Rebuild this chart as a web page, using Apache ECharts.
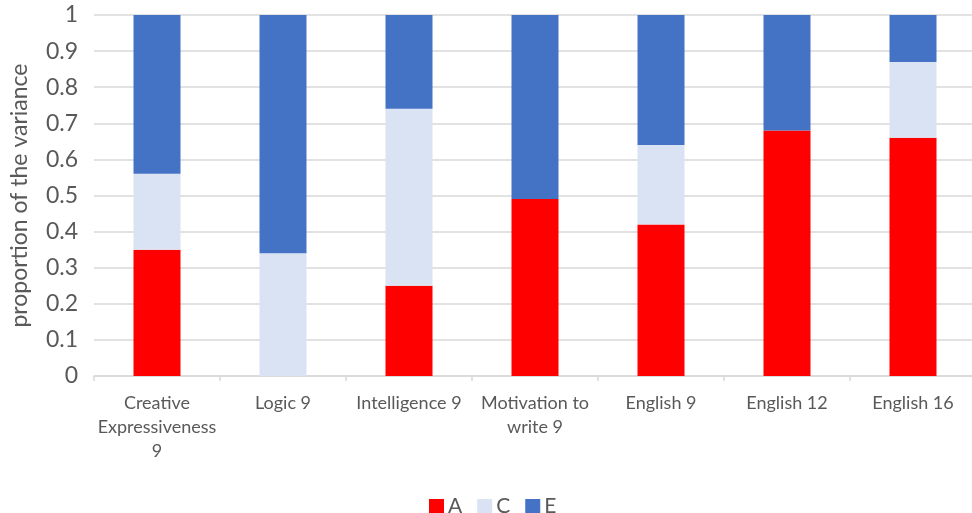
<!DOCTYPE html>
<html><head><meta charset="utf-8">
<script src="https://cdn.jsdelivr.net/npm/echarts@6/dist/echarts.min.js"></script>
<style>html,body{margin:0;padding:0;background:#fff;overflow:hidden}#c{width:976px;height:513px}</style>
</head><body><div id="c"></div>
<script>
const categories = ['Creative\nExpressiveness\n9', 'Logic 9', 'Intelligence 9', 'Motivation to\nwrite 9', 'English 9', 'English 12', 'English 16'];
const valuesA = [0.35, 0, 0.25, 0.49, 0.42, 0.68, 0.66];
const valuesC = [0.21, 0.34, 0.49, 0, 0.22, 0, 0.21];
const valuesE = [0.44, 0.66, 0.26, 0.51, 0.36, 0.32, 0.13];
const yTicks = [0, 0.1, 0.2, 0.3, 0.4, 0.5, 0.6, 0.7, 0.8, 0.9, 1];

const font = 'Lato';
const chart = echarts.init(document.getElementById('c'));
function bar(name, data, color) {
  return { name, type: 'bar', stack: 't', data, barWidth: 47,
    itemStyle: { color }, emphasis: { disabled: true } };
}
chart.setOption({
  animation: false,
  textStyle: { fontFamily: font },
  grid: { left: 93, width: 883, top: 15, height: 361 },
  legend: {
    top: 491, left: 424, itemWidth: 15, itemHeight: 15, itemGap: 15,
    icon: 'rect',
    textStyle: { fontSize: 21, color: '#595959', fontFamily: font, padding: [0, 0, 0, -1] },
    data: ['A', 'C', 'E']
  },
  xAxis: {
    type: 'category', data: categories,
    axisLine: { lineStyle: { color: '#d9d9d9', width: 1.5 } },
    axisTick: { show: true, length: 5, lineStyle: { color: '#d9d9d9', width: 1.5 } },
    axisLabel: { fontSize: 18, color: '#595959', lineHeight: 24, margin: 15, interval: 0, fontFamily: font }
  },
  yAxis: {
    type: 'value', min: 0, max: 1, interval: 0.1,
    name: 'proportion of the variance', nameLocation: 'middle', nameGap: 63,
    nameTextStyle: { fontSize: 23, color: '#595959', fontFamily: font },
    axisLine: { show: false }, axisTick: { show: false },
    axisLabel: { fontSize: 23, color: '#595959', margin: 16, fontFamily: font,
      formatter: v => { const t = yTicks.find(x => Math.abs(x - v) < 1e-6); return t === undefined ? '' : String(t); } },
    splitLine: { lineStyle: { color: '#d9d9d9', width: 1.5 } }
  },
  series: [bar('A', valuesA, '#FF0000'), bar('C', valuesC, '#DAE3F3'), bar('E', valuesE, '#4472C4')]
});
</script></body></html>
